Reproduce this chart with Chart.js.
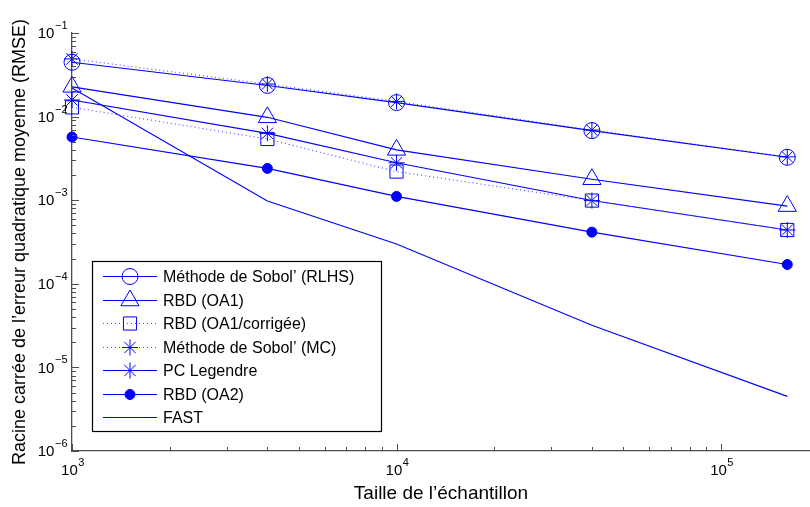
<!DOCTYPE html>
<html>
<head>
<meta charset="utf-8">
<script src="https://cdn.jsdelivr.net/npm/chart.js@4.4.0/dist/chart.umd.min.js"></script>
<style>
  html, body { margin: 0; padding: 0; background: #fff; }
  #wrap { width: 810px; height: 507px; }
</style>
</head>
<body>
<div id="wrap"><canvas id="rmseChart" width="810" height="507"></canvas></div>
<script>
// sample sizes (x) and RMSE per method (y)
const sampleSizes = [1000, 4000, 10000, 40000, 160000];

const sobolRLHS  = [0.0447, 0.0236, 0.0147, 0.0068, 0.00326];
const rbdOA1     = [0.0227, 0.0098, 0.0040, 0.00178, 0.00085];
const rbdOA1corr = [0.0129, 0.0054, 0.0022, 0.00099, 0.00044];
const sobolMC    = [0.049, 0.0245, 0.0152, 0.0069, 0.0033];
const pcLegendre = [0.0158, 0.0063, 0.0028, 0.00099, 0.00044];
const rbdOA2     = [0.0057, 0.0024, 0.00111, 0.000415, 0.00017];
const fast       = [0.022, 0.00098, 0.00030, 0.000032, 0.0000045];

const seriesNames = [
  "Méthode de Sobol’ (RLHS)", "RBD (OA1)", "RBD (OA1/corrigée)",
  "Méthode de Sobol’ (MC)", "PC Legendre", "RBD (OA2)", "FAST"
];

// decade tick labels (10^exp)
const xTickExps = [3, 4, 5];
const yTickExps = [-6, -5, -4, -3, -2, -1];

const xTitle = "Taille de l’échantillon";
const yTitle = "Racine carrée de l’erreur quadratique moyenne (RMSE)";

const BLUE = "#0000ff";
const DOTTED = "#4a4aff";
const AXIS = "#4d4d4d";
const FONT = "'Liberation Sans', Arial, Helvetica, sans-serif";

function series(label, values, style) {
  return Object.assign({
    label: label,
    data: values.map((v, i) => ({ x: sampleSizes[i], y: v })),
    borderColor: BLUE,
    borderWidth: 1.1,
    pointBorderColor: BLUE,
    pointBorderWidth: 1,
    pointBackgroundColor: "rgba(0,0,0,0)",
    pointRadius: 0,
    pointHoverRadius: 0,
    fill: false,
    tension: 0,
    clip: false
  }, style);
}

const datasets = [
  series(seriesNames[0], sobolRLHS,  { pointStyle: "circle",   pointRadius: 8 }),
  series(seriesNames[1], rbdOA1,     { pointStyle: "triangle", pointRadius: 10.5 }),
  series(seriesNames[2], rbdOA1corr, { pointStyle: "rect",     pointRadius: 9.3, borderDash: [1, 3], borderColor: DOTTED }),
  series(seriesNames[3], sobolMC,    { pointStyle: "star",     pointRadius: 8, borderDash: [1, 3], borderColor: DOTTED }),
  series(seriesNames[4], pcLegendre, { pointStyle: "star",     pointRadius: 8 }),
  series(seriesNames[5], rbdOA2,     { pointStyle: "circle",   pointRadius: 5, pointBackgroundColor: BLUE }),
  series(seriesNames[6], fast,       { pointRadius: 0 })
];

// draws "10" with a raised exponent
function drawPower(ctx, exp, x, y, align) {
  const base = "10";
  const sup = exp < 0 ? "\u2212" + Math.abs(exp) : String(exp);
  ctx.font = "15px " + FONT;
  const wb = ctx.measureText(base).width;
  ctx.font = "11px " + FONT;
  const ws = ctx.measureText(sup).width;
  let left;
  if (align === "right") left = x - wb - ws;
  else left = x - (wb + ws) / 2;
  ctx.textAlign = "left";
  ctx.textBaseline = "middle";
  ctx.font = "15px " + FONT;
  ctx.fillText(base, left, y);
  ctx.font = "11px " + FONT;
  ctx.fillText(sup, left + wb + 0.5, y - 8);
}

const matlabAxes = {
  id: "matlabAxes",
  afterDraw(chart) {
    const { ctx, chartArea: a } = chart;
    const x = chart.scales.x, y = chart.scales.y;
    ctx.save();

    // inward ticks, major on decades, minor in between
    ctx.strokeStyle = AXIS;
    ctx.lineWidth = 1;
    ctx.beginPath();
    for (let e = Math.floor(Math.log10(x.min)); e <= Math.floor(Math.log10(x.max)); e++) {
      for (let m = 1; m <= 9; m++) {
        const v = m * Math.pow(10, e);
        if (v < x.min || v > x.max) continue;
        const px = Math.round(x.getPixelForValue(v)) + 0.5;
        ctx.moveTo(px, a.bottom);
        ctx.lineTo(px, a.bottom - (m === 1 ? 7 : 4));
      }
    }
    for (let e = Math.floor(Math.log10(y.min)); e <= Math.floor(Math.log10(y.max)); e++) {
      for (let m = 1; m <= 9; m++) {
        const v = m * Math.pow(10, e);
        if (v < y.min * 0.999 || v > y.max * 1.001) continue;
        const py = Math.round(y.getPixelForValue(v)) + 0.5;
        ctx.moveTo(a.left, py);
        ctx.lineTo(a.left + (m === 1 ? 7 : 4), py);
      }
    }
    ctx.stroke();

    // tick labels
    ctx.fillStyle = "#000";
    xTickExps.forEach(e => drawPower(ctx, e, x.getPixelForValue(Math.pow(10, e)) + 0.5, a.bottom + 20, "center"));
    yTickExps.forEach(e => drawPower(ctx, e, a.left - 5, y.getPixelForValue(Math.pow(10, e)) + 1, "right"));

    // axis titles
    ctx.textAlign = "center";
    ctx.textBaseline = "middle";
    ctx.font = "19px " + FONT;
    ctx.fillText(xTitle, (a.left + a.right) / 2, 494);
    ctx.font = "18px " + FONT;
    ctx.translate(20, (a.top + a.bottom) / 2);
    ctx.rotate(-Math.PI / 2);
    ctx.fillText(yTitle, 0, 0);
    ctx.restore();
  }
};

// boxed legend with line sample and marker, like the original figure
const boxedLegend = {
  id: "boxedLegend",
  afterDraw(chart) {
    const ctx = chart.ctx;
    const box = { left: 92.5, top: 261.5, right: 381.5, bottom: 431.5 };
    const rowH = 23.5, firstRow = 276;
    ctx.save();
    ctx.fillStyle = "#fff";
    ctx.fillRect(box.left, box.top, box.right - box.left, box.bottom - box.top);
    ctx.strokeStyle = "#000";
    ctx.lineWidth = 1.2;
    ctx.strokeRect(box.left, box.top, box.right - box.left, box.bottom - box.top);

    chart.data.datasets.forEach((ds, i) => {
      const ry = Math.round(firstRow + i * rowH) + 0.5;
      ctx.strokeStyle = ds.borderColor;
      ctx.lineWidth = ds.borderWidth;
      ctx.setLineDash(ds.borderDash || []);
      ctx.beginPath();
      ctx.moveTo(103, ry);
      ctx.lineTo(157, ry);
      ctx.stroke();
      ctx.setLineDash([]);
      if (ds.pointRadius > 0) {
        ctx.strokeStyle = ds.pointBorderColor;
        ctx.fillStyle = ds.pointBackgroundColor;
        ctx.lineWidth = ds.pointBorderWidth;
        Chart.helpers.drawPoint(ctx, {
          pointStyle: ds.pointStyle, radius: ds.pointRadius,
          rotation: 0, borderWidth: ds.pointBorderWidth
        }, 130, ry);
      }
      ctx.fillStyle = "#000";
      ctx.font = "16px " + FONT;
      ctx.textAlign = "left";
      ctx.textBaseline = "middle";
      ctx.fillText(ds.label, 163, ry + 1);
    });
    ctx.restore();
  }
};

new Chart(document.getElementById("rmseChart"), {
  type: "line",
  data: { datasets: datasets },
  options: {
    responsive: false,
    animation: false,
    layout: { autoPadding: false, padding: { left: 72, top: 33, right: 0, bottom: 56 } },
    plugins: {
      legend: { display: false },
      tooltip: { enabled: false },
      title: { display: false }
    },
    scales: {
      x: {
        type: "logarithmic",
        min: 1000,
        max: 188000,
        grid: { display: false, drawTicks: false },
        border: { display: true, color: AXIS, width: 1.3 },
        ticks: { display: false }
      },
      y: {
        type: "logarithmic",
        min: 1e-6,
        max: 1e-1,
        grid: { display: false, drawTicks: false },
        border: { display: true, color: AXIS, width: 1.3 },
        ticks: { display: false }
      }
    }
  },
  plugins: [matlabAxes, boxedLegend]
});
</script>
</body>
</html>
